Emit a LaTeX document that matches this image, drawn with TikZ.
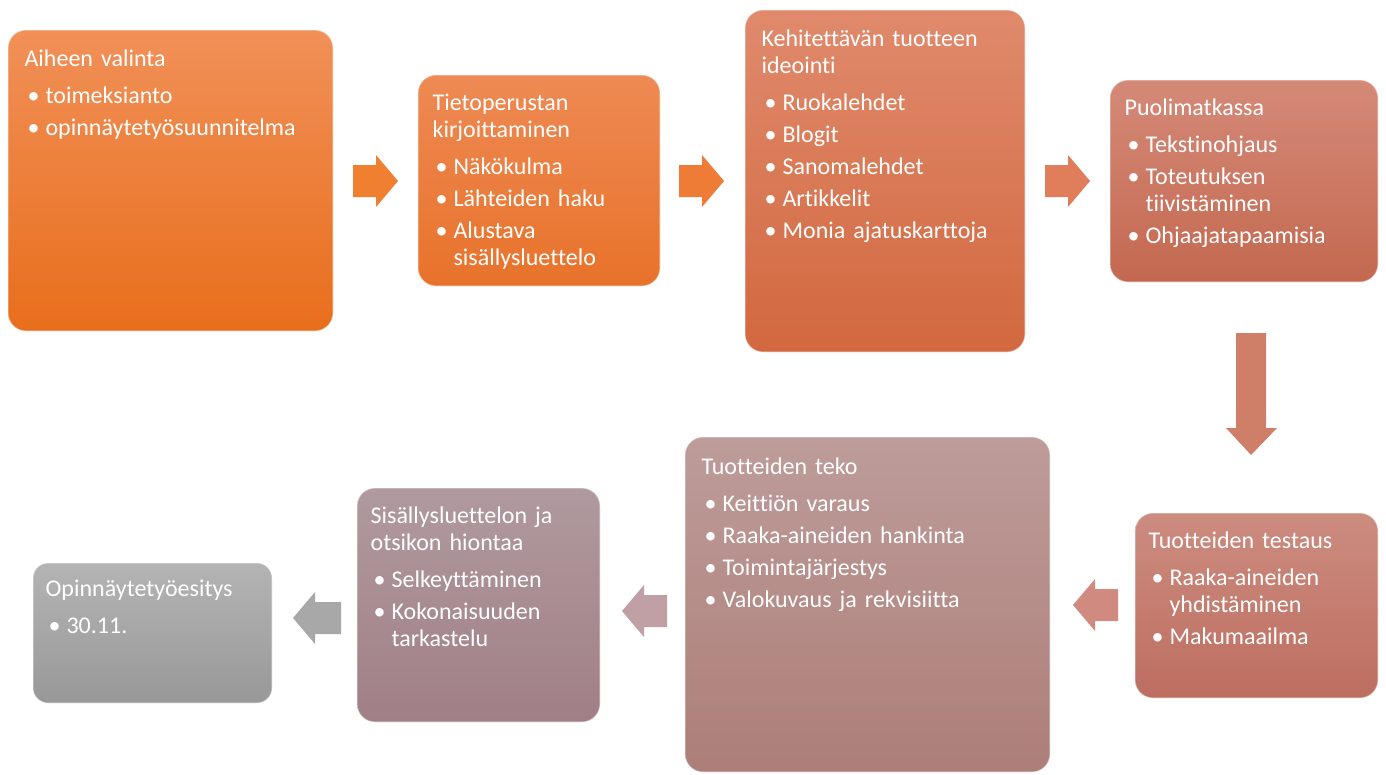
\documentclass[tikz,border=0pt]{standalone}
\usepackage{fontspec}
\setmainfont{Carlito}[Ligatures=NoCommon]
\definecolor{c1t}{RGB}{241,144,88}\definecolor{c1b}{RGB}{232,110,28}
\definecolor{c2t}{RGB}{238,138,84}\definecolor{c2b}{RGB}{232,114,42}
\definecolor{c3t}{RGB}{224,138,108}\definecolor{c3b}{RGB}{210,104,63}
\definecolor{c4t}{RGB}{212,138,120}\definecolor{c4b}{RGB}{196,104,80}
\definecolor{c5t}{RGB}{204,140,128}\definecolor{c5b}{RGB}{189,110,96}
\definecolor{c6t}{RGB}{189,156,154}\definecolor{c6b}{RGB}{173,126,120}
\definecolor{c7t}{RGB}{176,154,158}\definecolor{c7b}{RGB}{160,127,133}
\definecolor{c8t}{RGB}{180,180,180}\definecolor{c8b}{RGB}{152,152,152}
\definecolor{ar1}{RGB}{240,127,48}\definecolor{ar2}{RGB}{238,124,54}
\definecolor{ar3}{RGB}{224,125,90}\definecolor{ar4}{RGB}{207,126,104}
\definecolor{ar5}{RGB}{208,138,128}\definecolor{ar6}{RGB}{192,160,164}
\definecolor{ar7}{RGB}{168,168,168}
\newcommand\bl[1]{\par\vspace{5pt}\hangindent=21pt\hangafter=1\noindent\hbox to 21pt{\hspace{3pt}•\hfil}#1\par}
\newcommand\hd[1]{\noindent #1\par\vspace{5pt}}
\begin{document}
\begin{tikzpicture}[x=1pt,y=-1pt,
  box/.style={rectangle, rounded corners=18pt, draw=white, draw opacity=0.4, line width=1.2pt, inner sep=0pt},
  txt/.style={anchor=north west, inner sep=0pt, text=white, align=left, text width=#1, font=\fontsize{24}{27}\selectfont},
  arr/.style={draw=none}]
\useasboundingbox[fill=white] (0,0) rectangle (1386,774);

% boxes
\node[box, minimum width=325pt, minimum height=301pt, top color=c1t, bottom color=c1b] (b1) at (170.5,180.5) {};
\node[box, minimum width=242pt, minimum height=211pt, top color=c2t, bottom color=c2b] (b2) at (539,180.5) {};
\node[box, minimum width=280pt, minimum height=342pt, top color=c3t, bottom color=c3b] (b3) at (885,181) {};
\node[box, minimum width=268pt, minimum height=202pt, top color=c4t, bottom color=c4b] (b4) at (1244,181) {};
\node[box, minimum width=243pt, minimum height=185pt, top color=c5t, bottom color=c5b] (b5) at (1256.5,605.5) {};
\node[box, minimum width=365pt, minimum height=335pt, top color=c6t, bottom color=c6b] (b6) at (867.5,604.5) {};
\node[box, minimum width=243pt, minimum height=234pt, top color=c7t, bottom color=c7b] (b7) at (478.5,605) {};
\node[box, rounded corners=15pt, minimum width=239pt, minimum height=140pt, top color=c8t, bottom color=c8b] (b8) at (152.5,633) {};

% texts
\node[txt=300pt] (t1) at ([xshift=17pt,yshift=-20pt]b1.north west) {\hd{Aiheen valinta}\bl{toimeksianto}\bl{opinnäytetyösuunnitelma}};
\node[txt=230pt] (t2) at ([xshift=15pt,yshift=-19pt]b2.north west) {\hd{Tietoperustan\newline kirjoittaminen}\bl{Näkökulma}\bl{Lähteiden haku}\bl{Alustava\newline sisällysluettelo}};
\node[txt=270pt] (t3) at ([xshift=17pt,yshift=-20pt]b3.north west) {\hd{Kehitettävän tuotteen\newline ideointi}\bl{Ruokalehdet}\bl{Blogit}\bl{Sanomalehdet}\bl{Artikkelit}\bl{Monia ajatuskarttoja}};
\node[txt=260pt] (t4) at ([xshift=15pt,yshift=-19pt]b4.north west) {\hd{Puolimatkassa}\bl{Tekstinohjaus}\bl{Toteutuksen\newline tiivistäminen}\bl{Ohjaajatapaamisia}};
\node[txt=240pt] (t5) at ([xshift=14pt,yshift=-19pt]b5.north west) {\hd{Tuotteiden testaus}\bl{Raaka-aineiden\newline yhdistäminen}\bl{Makumaailma}};
\node[txt=350pt] (t6) at ([xshift=17pt,yshift=-21pt]b6.north west) {\hd{Tuotteiden teko}\bl{Keittiön varaus}\bl{Raaka-aineiden hankinta}\bl{Toimintajärjestys}\bl{Valokuvaus ja rekvisiitta}};
\node[txt=240pt] (t7) at ([xshift=14pt,yshift=-19pt]b7.north west) {\hd{Sisällysluettelon ja\newline otsikon hiontaa}\bl{Selkeyttäminen}\bl{Kokonaisuuden\newline tarkastelu}};
\node[txt=235pt] (t8) at ([xshift=13pt,yshift=-17pt]b8.north west) {\hd{Opinnäytetyöesitys}\bl{30.11.}};

% block arrows
\coordinate (a1) at (353,181);
\coordinate (a2) at (679,181);
\coordinate (a3) at (1045,181);
\fill[arr, ar1] (a1) ++(0,-16) -- ++(23,0) -- ++(0,-10) -- ++(22,26) -- ++(-22,26) -- ++(0,-10) -- ++(-23,0) -- cycle;
\fill[arr, ar2] (a2) ++(0,-16) -- ++(23,0) -- ++(0,-10) -- ++(22,26) -- ++(-22,26) -- ++(0,-10) -- ++(-23,0) -- cycle;
\fill[arr, ar3] (a3) ++(0,-16) -- ++(23,0) -- ++(0,-10) -- ++(22,26) -- ++(-22,26) -- ++(0,-10) -- ++(-23,0) -- cycle;

\coordinate (ad) at (1251,333);
\fill[arr, ar4] (ad) ++(-15,0) -- ++(30,0) -- ++(0,95) -- ++(11,0) -- ++(-26,27) -- ++(-25,-27) -- ++(10,0) -- cycle;

\coordinate (l1) at (1073,605);
\coordinate (l2) at (622,611);
\coordinate (l3) at (293,618);
\fill[arr, ar5] (l1) -- ++(22,-26) -- ++(0,10) -- ++(23,0) -- ++(0,32) -- ++(-23,0) -- ++(0,10) -- cycle;
\fill[arr, ar6] (l2) -- ++(22,-26) -- ++(0,10) -- ++(23,0) -- ++(0,32) -- ++(-23,0) -- ++(0,10) -- cycle;
\fill[arr, ar7] (l3) -- ++(22,-26) -- ++(0,10) -- ++(26,0) -- ++(0,32) -- ++(-26,0) -- ++(0,10) -- cycle;
\end{tikzpicture}
\end{document}
